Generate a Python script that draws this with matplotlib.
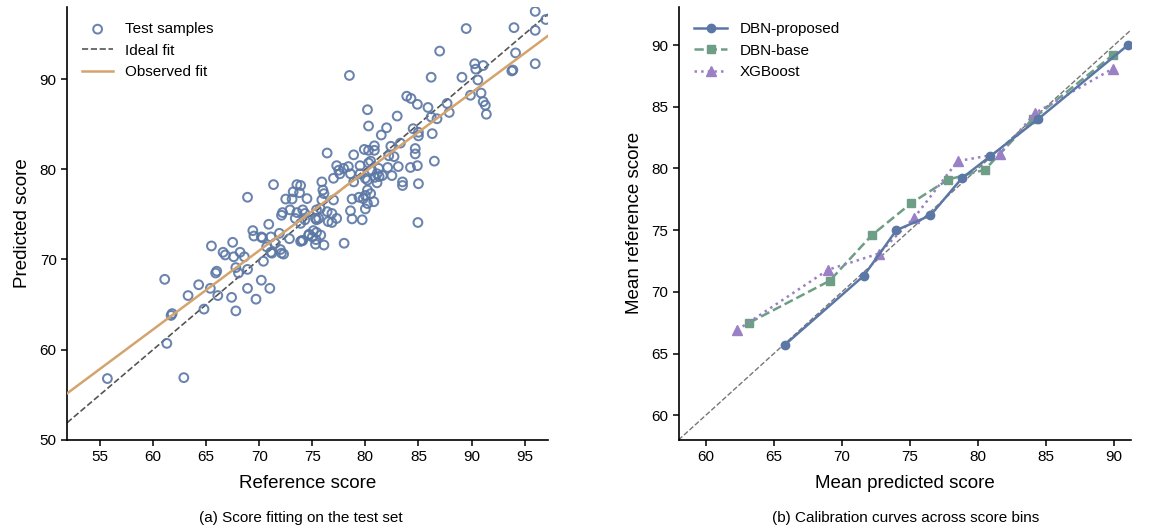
import numpy as np
import matplotlib
matplotlib.use("Agg")
import matplotlib.pyplot as plt

plt.rcParams.update({
    "font.family": ["Liberation Sans", "DejaVu Sans"],
    "font.size": 11,
    "axes.labelsize": 13.5,
    "xtick.labelsize": 11,
    "ytick.labelsize": 11,
    "axes.linewidth": 1.2,
})

# ---- panel (a): test samples (reference score, predicted score) ----
test_ref = [
    55.7, 62.9, 61.3, 61.7, 61.8, 61.1, 63.3, 64.3, 64.8, 65.4, 65.5, 65.9, 66.0, 66.1,
    66.6, 66.8, 67.5, 67.4, 67.8, 67.6, 68.2, 68.6, 67.8, 68.05, 68.9, 68.9, 69.7, 69.4,
    69.5, 70.2, 70.3, 70.9, 71.1, 70.4, 70.2, 71.0, 71.1, 71.9, 72.0, 72.1, 72.85, 73.9,
    74.1, 74.7, 70.7, 71.5, 71.2, 72.3,
    68.9, 71.35, 73.55, 73.2, 73.8, 72.5, 73.1, 74.5, 72.2, 72.9, 73.55, 74.1, 72.1,
    73.4, 74.3, 75.3,
    73.9, 74.3, 75.6, 76.5, 76.85, 73.9, 75.4, 78.75, 79.7,
    74.0, 74.65, 75.1, 75.4, 75.8, 75.3, 76.1, 78.0, 75.0, 75.35,
    76.4, 77.3, 77.5, 77.95, 77.6, 78.4, 79.5, 80.3, 80.6, 81.1, 80.9, 78.9, 80.2, 77.0,
    75.9, 76.0, 76.1, 78.75, 79.8, 80.5, 80.8, 80.2, 80.0, 78.6, 77.0, 77.3, 79.9, 78.9,
    80.85, 80.85, 80.3, 80.5, 84.7, 84.7, 86.5, 84.9, 84.25, 83.1, 82.1, 81.3, 81.1,
    85.0, 83.5, 83.5, 84.95,
    83.3, 82.4, 82.2, 82.7,
    80.2, 83.0, 80.3, 82.0, 81.5, 86.2, 86.75, 84.5, 85.0, 85.0, 86.3, 85.9,
    83.9, 84.3, 84.9, 87.7, 87.9,
    78.5, 86.2, 87.0, 89.5, 89.1, 90.3, 91.1, 90.4, 90.6, 90.9, 89.9, 91.1, 91.3, 91.4,
    96.0, 94.0, 96.0, 94.15, 96.0, 93.8, 93.9, 97.0,
    75.9, 75.75, 75.4, 76.4, 76.85, 78.6, 79.5, 80.0, 81.6, 82.5, 81.25,
    79.4, 80.0, 80.2,
]
test_pred = [
    56.8, 56.9, 60.7, 63.8, 64.0, 67.8, 66.0, 67.2, 64.5, 66.8, 71.5, 68.5, 68.7, 66.0,
    70.8, 70.5, 71.9, 65.8, 64.3, 70.3, 70.8, 70.3, 69.1, 68.5, 68.9, 66.8, 65.6, 73.2,
    72.6, 72.5, 72.4, 73.9, 72.5, 69.8, 67.7, 66.8, 70.8, 72.9, 71.1, 70.7, 72.3, 72.0,
    72.1, 72.8, 71.4, 71.8, 70.7, 70.6,
    76.9, 78.3, 78.3, 77.5, 77.4, 76.7, 76.7, 76.75, 75.2, 75.5, 75.2, 75.5, 74.9,
    74.55, 74.4, 74.55,
    78.2, 75.1, 74.55, 74.2, 74.1, 74.0, 74.4, 74.5, 74.4,
    72.1, 72.7, 73.2, 73.0, 72.7, 71.7, 71.6, 71.8, 72.5, 72.2,
    81.8, 80.4, 79.9, 80.1, 79.5, 80.3, 80.4, 80.7, 79.9, 79.5, 79.1, 78.6, 78.8, 79.0,
    78.6, 77.7, 77.3, 76.7, 76.75, 77.3, 76.4, 76.2, 75.6, 75.4, 76.6, 74.55, 82.2, 81.6,
    82.6, 82.1, 82.1, 80.9, 82.3, 81.7, 80.9, 80.4, 80.2, 80.3, 80.2, 79.2, 78.5,
    78.4, 78.6, 78.2, 74.1,
    82.9, 82.55, 81.5, 81.4,
    86.6, 85.9, 84.8, 84.6, 83.8, 85.8, 85.6, 84.5, 84.1, 83.7, 83.95, 86.85,
    88.1, 87.85, 87.2, 87.3, 86.3,
    90.4, 90.2, 93.1, 95.6, 90.2, 91.7, 91.5, 91.1, 89.9, 88.45, 88.2, 87.5, 87.1, 86.1,
    97.5, 95.7, 95.4, 92.9, 91.7, 90.9, 91.0, 96.6,
    76.6, 75.65, 75.5, 75.3, 75.1, 79.5, 79.5, 79.0, 79.3, 79.3, 80.1,
    76.9, 77.1, 77.7,
]
fit_slope = 0.875
fit_intercept = 9.74

# ---- panel (b): calibration curves (mean predicted, mean reference) ----
dbn_prop_x = [65.8, 71.6, 74.0, 76.5, 78.8, 80.9, 84.4, 91.0]
dbn_prop_y = [65.7, 71.3, 75.0, 76.2, 79.2, 81.0, 84.0, 90.0]
dbn_base_x = [63.2, 69.1, 72.2, 75.1, 77.8, 80.5, 84.0, 89.9]
dbn_base_y = [67.5, 70.9, 74.6, 77.2, 79.1, 79.9, 84.0, 89.2]
xgb_x = [62.3, 69.0, 72.7, 75.3, 78.5, 81.6, 84.2, 89.9]
xgb_y = [66.9, 71.8, 73.1, 76.0, 80.6, 81.2, 84.5, 88.1]

blue = "#5b77a5"
green = "#6e9e86"
purple = "#9a80c4"
orange = "#d4a46e"

fig = plt.figure(figsize=(11.56, 5.30), dpi=100)
ax1 = fig.add_axes([0.058, 0.170, 0.416, 0.817])
ax2 = fig.add_axes([0.587, 0.170, 0.391, 0.817])

# (a)
xlim_a = (51.9, 97.2)
ylim_a = (50, 98)
ax1.scatter(test_ref, test_pred, s=40, facecolors="none", edgecolors=blue,
            linewidths=1.45, alpha=0.9, label="Test samples", zorder=3)
xx = np.array(xlim_a)
ax1.plot(xx, xx, "--", color="#555555", lw=1.2, label="Ideal fit", zorder=2)
ax1.plot(xx, fit_slope * xx + fit_intercept, color=orange, lw=1.8,
         label="Observed fit", zorder=4)
ax1.set_xlim(*xlim_a)
ax1.set_ylim(*ylim_a)
ax1.set_xticks(np.arange(55, 96, 5))
ax1.set_yticks(np.arange(50, 91, 10))
ax1.set_xlabel("Reference score", labelpad=8)
ax1.set_ylabel("Predicted score", labelpad=6)
ax1.legend(loc="upper left", frameon=False, fontsize=11, handlelength=2.0,
           borderaxespad=0.6)

# (b)
lim_x = (58, 91.2)
lim_y = (58, 93.1)
ax2.plot([58, 93.1], [58, 93.1], "--", color="#777777", lw=1.0, zorder=1)
ax2.plot(dbn_prop_x, dbn_prop_y, "-o", color=blue, lw=1.8, ms=6,
         label="DBN-proposed", zorder=4)
ax2.plot(dbn_base_x, dbn_base_y, "--s", color=green, lw=1.8, ms=6,
         label="DBN-base", zorder=3)
ax2.plot(xgb_x, xgb_y, ":^", color=purple, lw=1.8, ms=6.5,
         label="XGBoost", zorder=3)
ax2.set_xlim(*lim_x)
ax2.set_ylim(*lim_y)
ax2.set_xticks(np.arange(60, 91, 5))
ax2.set_yticks(np.arange(60, 91, 5))
ax2.set_xlabel("Mean predicted score", labelpad=8)
ax2.set_ylabel("Mean reference score", labelpad=6)
ax2.legend(loc="upper left", frameon=False, fontsize=11, handlelength=2.2,
           borderaxespad=0.6)

for ax in (ax1, ax2):
    ax.spines["top"].set_visible(False)
    ax.spines["right"].set_visible(False)
    ax.tick_params(direction="out", length=4, width=1.1)

fig.text(0.26, 0.023, "(a) Score fitting on the test set", ha="center",
         va="center", fontsize=11)
fig.text(0.783, 0.023, "(b) Calibration curves across score bins", ha="center",
         va="center", fontsize=11)

fig.savefig("out.png", dpi=100)
